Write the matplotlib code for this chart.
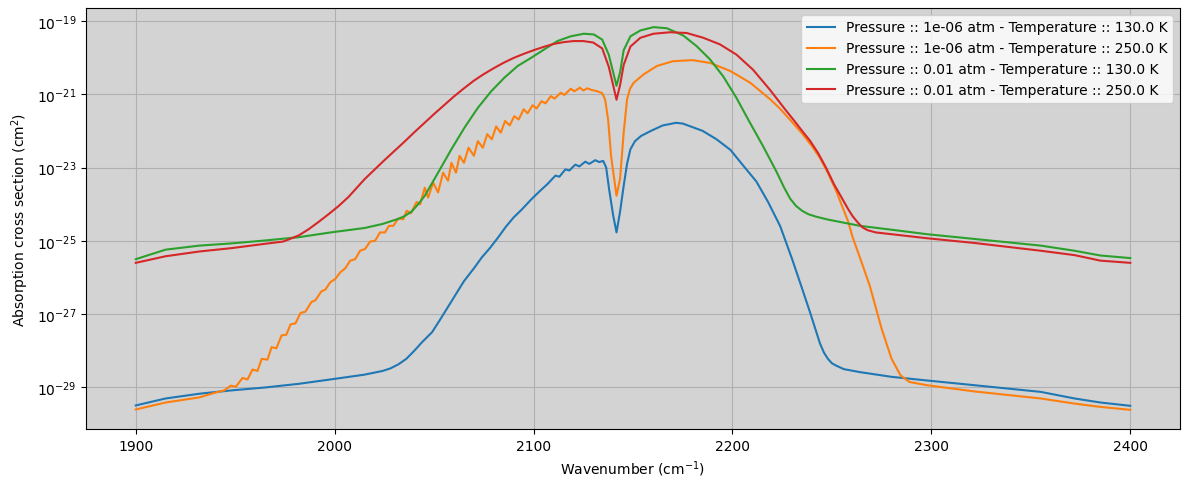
import numpy as np
import matplotlib
matplotlib.use("Agg")
import matplotlib.pyplot as plt

# Cross sections, stored as log10(cm^2)
labels = [
    "Pressure :: 1e-06 atm - Temperature :: 130.0 K",
    "Pressure :: 1e-06 atm - Temperature :: 250.0 K",
    "Pressure :: 0.01 atm - Temperature :: 130.0 K",
    "Pressure :: 0.01 atm - Temperature :: 250.0 K",
]

# 1e-06 atm, 130 K
wn_low_130 = [1900, 1915, 1932, 1948, 1965, 1982, 1998, 2015, 2024, 2028, 2032, 2036, 2040,
              2044, 2049, 2053, 2057, 2061, 2065, 2070, 2074, 2078, 2082, 2086, 2090, 2094,
              2099, 2103, 2107, 2111, 2113, 2116, 2118, 2121, 2123, 2126, 2128, 2131, 2133,
              2135, 2136.5, 2138, 2140, 2141.7, 2143.5, 2145.3, 2147, 2148.7, 2151, 2154,
              2159, 2165, 2168, 2171.5, 2175, 2179, 2185, 2192, 2199, 2205, 2212, 2218, 2224,
              2230, 2235, 2239, 2244, 2246, 2248, 2250, 2252, 2256, 2264, 2280, 2298, 2322,
              2355, 2372, 2385, 2400]
xs_low_130 = [-29.49, -29.30, -29.17, -29.08, -29.00, -28.90, -28.78, -28.65, -28.55, -28.48,
              -28.37, -28.22, -28.00, -27.76, -27.49, -27.15, -26.80, -26.45, -26.10, -25.75,
              -25.45, -25.20, -24.92, -24.62, -24.36, -24.15, -23.86, -23.65, -23.45, -23.22,
              -23.25, -23.05, -23.08, -22.92, -22.97, -22.84, -22.90, -22.80, -22.85, -22.82,
              -23.00, -23.60, -24.30, -24.77, -24.20, -23.50, -22.90, -22.50, -22.28, -22.14,
              -22.00, -21.85, -21.82, -21.78, -21.80, -21.88, -22.00, -22.23, -22.52, -22.92,
              -23.38, -23.95, -24.60, -25.50, -26.30, -26.95, -27.80, -28.05, -28.22, -28.34,
              -28.40, -28.50, -28.58, -28.71, -28.81, -28.94, -29.12, -29.30, -29.41, -29.50]

# 1e-06 atm, 250 K
wn_low_250 = [1900, 1915, 1932, 1940, 1944.5, 1947.8, 1950.3, 1953.7, 1956.2, 1958.7, 1961.2,
              1963.3, 1966.2, 1968.3, 1970.7, 1973.3, 1975.7, 1977.8, 1980.3, 1982.8, 1985.3,
              1988.3, 1990.3, 1993.3, 1995.3, 1997.8, 2000.3, 2002.8, 2005.3, 2007.8, 2010.3,
              2012.8, 2015.3, 2017.8, 2020.3, 2022.8, 2025.3, 2027.3, 2029.5, 2032, 2034.5,
              2036.2, 2038.3, 2041.2, 2043, 2045.3, 2047, 2049.5, 2052, 2054.5, 2057, 2058.7,
              2061, 2062.8, 2065, 2067.3, 2070, 2072, 2074.5, 2076.7, 2079, 2081.2, 2083.5,
              2085.7, 2088, 2090.3, 2092.5, 2095, 2097, 2099.5, 2101.5, 2104, 2106, 2108.7,
              2110.5, 2113.7, 2115.5, 2118.7, 2120.5, 2123.3, 2125, 2127, 2129, 2132, 2134.5,
              2136, 2137.5, 2139, 2141.7, 2143.5, 2145.3, 2147, 2148.5, 2150.3, 2155.3, 2162,
              2170, 2180, 2189, 2199, 2209, 2219, 2224, 2229, 2235, 2240, 2244, 2248, 2252,
              2258, 2260.3, 2265, 2269, 2275, 2280, 2284.5, 2289, 2298, 2322, 2355, 2372, 2385,
              2400]
xs_low_250 = [-29.60, -29.41, -29.27, -29.14, -29.08, -28.95, -28.98, -28.74, -28.78, -28.51,
              -28.55, -28.22, -28.24, -27.90, -27.93, -27.58, -27.56, -27.28, -27.25, -26.97,
              -26.93, -26.67, -26.62, -26.38, -26.33, -26.13, -26.04, -25.86, -25.75, -25.54,
              -25.50, -25.27, -25.22, -25.02, -25.00, -24.77, -24.77, -24.59, -24.59, -24.39,
              -24.41, -24.18, -24.25, -23.94, -24.00, -23.55, -23.82, -23.41, -23.68, -23.14,
              -23.36, -22.87, -23.14, -22.68, -22.87, -22.46, -22.68, -22.28, -22.46, -22.09,
              -22.23, -21.88, -22.05, -21.73, -21.85, -21.60, -21.69, -21.41, -21.52, -21.30,
              -21.39, -21.19, -21.25, -21.05, -21.12, -20.96, -21.02, -20.85, -20.92, -20.82,
              -20.90, -20.84, -20.88, -20.92, -20.97, -21.15, -21.70, -22.70, -23.77, -23.30,
              -22.05, -21.14, -20.85, -20.69, -20.46, -20.23, -20.10, -20.07, -20.15, -20.37,
              -20.69, -21.14, -21.40, -21.70, -22.07, -22.42, -22.74, -23.15, -23.62, -24.45,
              -24.88, -25.60, -26.22, -27.40, -28.22, -28.67, -28.85, -28.94, -29.11, -29.30,
              -29.44, -29.53, -29.61]

# 0.01 atm, 130 K
wn_high_130 = [1900, 1915, 1932, 1948, 1965, 1982, 1998, 2015, 2024, 2032, 2035, 2038.7, 2042,
               2045.3, 2052, 2058.7, 2065.3, 2072, 2078.7, 2085.3, 2092, 2098.7, 2105.3,
               2112, 2118.7, 2125.3, 2130.3, 2134.5, 2137.8, 2140, 2141.7, 2143.5, 2145.3,
               2148.7, 2153.7, 2160.3, 2167, 2175.3, 2182, 2188.7, 2195.3, 2202, 2208,
               2215.3, 2222, 2226, 2229, 2232, 2235, 2238, 2242, 2248, 2264,
               2282, 2298, 2322, 2355, 2372, 2385, 2400]
xs_high_130 = [-25.50, -25.24, -25.13, -25.07, -24.99, -24.90, -24.77, -24.65, -24.54, -24.40,
               -24.33, -24.20, -24.00, -23.77, -23.14, -22.50, -21.91, -21.37, -20.92, -20.55,
               -20.23, -20.01, -19.78, -19.55, -19.42, -19.35, -19.37, -19.51, -19.92, -20.40,
               -20.77, -20.40, -19.80, -19.42, -19.26, -19.17, -19.20, -19.40, -19.69, -20.05,
               -20.51, -21.10, -21.70, -22.41, -23.10, -23.55, -23.85, -24.05, -24.18, -24.27,
               -24.34, -24.42, -24.59, -24.71, -24.82, -24.95, -25.13, -25.27, -25.40, -25.47]

# 0.01 atm, 250 K
wn_high_250 = [1900, 1915, 1932, 1948, 1965, 1974, 1977, 1982, 1987, 1992, 1997, 2002, 2007,
               2012, 2015, 2020, 2025, 2030, 2035, 2040, 2045, 2050, 2055, 2060, 2065, 2070,
               2075, 2080, 2085, 2090, 2095, 2100, 2105, 2110, 2115, 2120, 2125, 2130, 2134.5,
               2137.8, 2140, 2141.7, 2143.5, 2145.3, 2148.7, 2153.7, 2160.3, 2168.7, 2177,
               2185.3, 2193.7, 2202, 2210.3, 2218.7, 2227, 2231, 2235, 2239, 2243, 2247, 2251,
               2255.3, 2258, 2260.3, 2263, 2265.3, 2268, 2272, 2298, 2322, 2355, 2372, 2385,
               2400]
xs_high_250 = [-25.60, -25.42, -25.29, -25.20, -25.08, -25.02, -24.96, -24.85, -24.68, -24.48,
               -24.27, -24.05, -23.80, -23.50, -23.32, -23.06, -22.80, -22.55, -22.30, -22.04,
               -21.79, -21.54, -21.30, -21.06, -20.84, -20.63, -20.45, -20.29, -20.14, -20.01,
               -19.90, -19.80, -19.71, -19.63, -19.58, -19.55, -19.55, -19.59, -19.75, -20.25,
               -20.75, -21.15, -20.75, -20.20, -19.70, -19.46, -19.35, -19.31, -19.33, -19.46,
               -19.64, -19.92, -20.33, -20.87, -21.45, -21.72, -22.00, -22.27, -22.60, -23.00,
               -23.45, -23.86, -24.12, -24.32, -24.50, -24.63, -24.71, -24.77, -24.93, -25.06,
               -25.27, -25.39, -25.54, -25.60]

series = [
    (wn_low_130, xs_low_130),
    (wn_low_250, xs_low_250),
    (wn_high_130, xs_high_130),
    (wn_high_250, xs_high_250),
]

fig, ax = plt.subplots(figsize=(11.9, 4.89), dpi=100)
ax.set_facecolor("lightgrey")

for (wn, logxs), label in zip(series, labels):
    ax.plot(wn, 10.0 ** np.array(logxs), label=label)

ax.set_yscale("log")
ax.grid(True)
ax.set_axisbelow(True)
ax.set_xlabel("Wavenumber (cm$^{-1}$)")
ax.set_ylabel("Absorption cross section (cm$^{2}$)")
ax.legend(loc="upper right")

fig.subplots_adjust(left=0.0723, right=0.9916, top=0.9816, bottom=0.1207)
plt.savefig("out.png")
